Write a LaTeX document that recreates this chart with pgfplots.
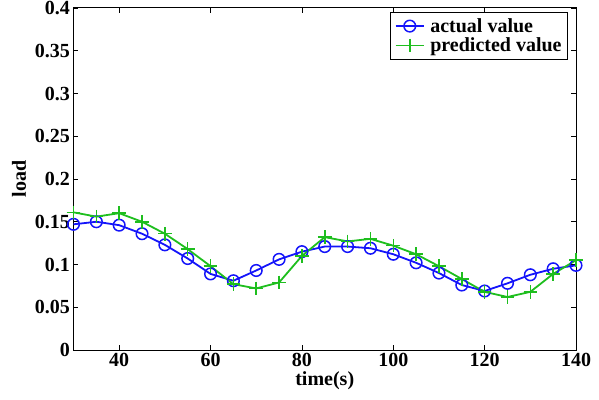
\documentclass[border=0pt]{standalone}
\usepackage{fontspec}
\setmainfont{Liberation Serif}
\usepackage{pgfplots}
\pgfplotsset{compat=1.18}
\definecolor{mblue}{RGB}{20,20,250}
\definecolor{mgreen}{RGB}{30,190,30}
\begin{document}
\begin{tikzpicture}
\begin{axis}[
  name=ax,
  scale only axis,
  width=502.5pt, height=342pt,
  xmin=30, xmax=140, ymin=0, ymax=0.4,
  xtick={40,60,80,100,120,140},
  ytick={0,0.05,0.1,0.15,0.2,0.25,0.3,0.35,0.4},
  scaled y ticks=false,
  yticklabel style={/pgf/number format/.cd, fixed, precision=2, assume math mode=true},
  xticklabel style={/pgf/number format/.cd, assume math mode=true},
  tick label style={font=\fontsize{20}{24}\selectfont\bfseries},
  label style={font=\fontsize{20}{24}\selectfont\bfseries},
  xlabel={time(s)}, ylabel={load},
  xlabel style={yshift=2pt},
  ylabel style={yshift=2pt},
  tick align=inside, major tick length=5pt,
  every tick/.style={black, line width=0.8pt},
  axis line style={line width=1pt},
  legend style={at={(rel axis cs:1,1)}, anchor=north east, xshift=-8pt, yshift=-4pt,
    font=\fontsize{20}{24}\selectfont\bfseries, draw=black, line width=0.8pt,
    inner sep=4pt, row sep=0pt},
  legend cell align=left,
  legend image code/.code={\draw[mark repeat=2,mark phase=2] plot coordinates {(0cm,0cm)(0.5cm,0cm)(1.0cm,0cm)}; \path (1.12cm,0cm);},
]
\addplot[color=mblue, line width=1.8pt, mark=o, mark size=5.8pt, mark options={line width=1.5pt}] coordinates {
(30,0.147)(35,0.150)(40,0.146)(45,0.136)(50,0.123)(55,0.107)(60,0.089)(65,0.081)
(70,0.093)(75,0.106)(80,0.115)(85,0.121)(90,0.121)(95,0.119)(100,0.112)(105,0.102)
(110,0.090)(115,0.076)(120,0.069)(125,0.078)(130,0.088)(135,0.095)(140,0.099)};
\addlegendentry{actual value}
\addplot[color=mgreen, line width=1.8pt, mark=+, mark size=6.8pt, mark options={line width=1.5pt}] coordinates {
(30,0.161)(35,0.156)(40,0.160)(45,0.150)(50,0.136)(55,0.118)(60,0.098)(65,0.077)
(70,0.072)(75,0.079)(80,0.110)(85,0.132)(90,0.127)(95,0.130)(100,0.122)(105,0.112)
(110,0.098)(115,0.083)(120,0.068)(125,0.062)(130,0.068)(135,0.089)(140,0.105)};
\addlegendentry{predicted value}
\end{axis}
\pgfresetboundingbox
\path[use as bounding box] ([shift={(-73.5pt,-49pt)}]ax.south west) rectangle ([shift={(23pt,8pt)}]ax.north east);
\end{tikzpicture}
\end{document}
